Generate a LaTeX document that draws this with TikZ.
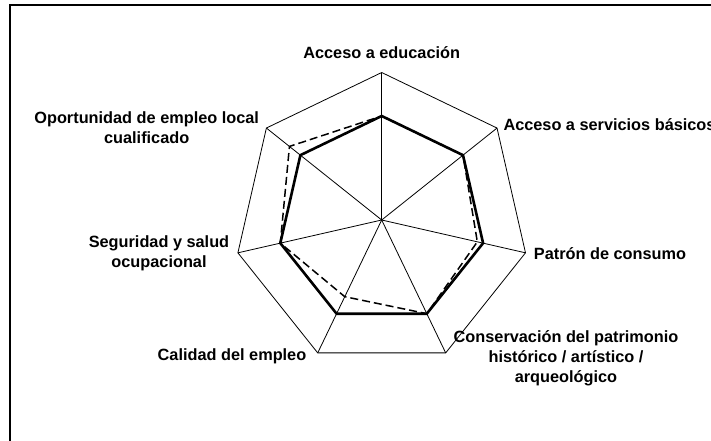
\documentclass[tikz,border=0pt]{standalone}
\usepackage{fontspec}
\setmainfont{Liberation Sans}
\usetikzlibrary{calc}

\tikzset{
    axislabel/.style={font=\bfseries\fontsize{16.3}{20}\selectfont, align=center, inner sep=0pt},
    gridline/.style={black, line width=0.8pt},
    thickseries/.style={black, line width=2.6pt},
    dashseries/.style={black, line width=1.5pt, dash pattern=on 8pt off 4pt},
}

\begin{document}
\begin{tikzpicture}[x=1pt, y=1pt]
    \newcommand*{\bigradius}{147.5}
    \newcommand*{\seriesradius}{104}
    \useasboundingbox (-381.7,-220) rectangle (329.3,220);
    \draw[line width=2pt] (-371.7,-240) -- (-371.7,215) -- (350,215);
    \foreach \k in {0,...,6} {
        \coordinate (V\k) at ({90-\k*360/7}:\bigradius);
        \draw[gridline] (0,0) -- (V\k);
    }
    \draw[gridline] (V0) -- (V1) -- (V2) -- (V3) -- (V4) -- (V5) -- (V6) -- cycle;
    \draw[thickseries] (90:\seriesradius) foreach \k in {1,...,6} { -- ({90-\k*360/7}:\seriesradius) } -- cycle;
    \draw[dashseries] (90:{0.705*\bigradius}) foreach \v [count=\k] in {0.705,0.665,0.705,0.577,0.705,0.80} { -- ({90-\k*360/7}:{\v*\bigradius}) } -- cycle;
    \node[axislabel] (educacion) at (0,167) {Acceso a educación};
    \node[axislabel, anchor=west] (servicios) at (121.6,95) {Acceso a servicios básicos};
    \node[axislabel] (consumo) at (228.3,-33.3) {Patrón de consumo};
    \node[axislabel] (patrimonio) at (184.3,-138) {Conservación del patrimonio\\histórico / artístico /\\arqueológico};
    \node[axislabel] (calidad) at (-149.7,-136.7) {Calidad del empleo};
    \node[axislabel] (seguridad) at (-222.7,-33.3) {Seguridad y salud\\ocupacional};
    \node[axislabel] (oportunidad) at (-235,92.5) {Oportunidad de empleo local\\cualificado};
\end{tikzpicture}
\end{document}
